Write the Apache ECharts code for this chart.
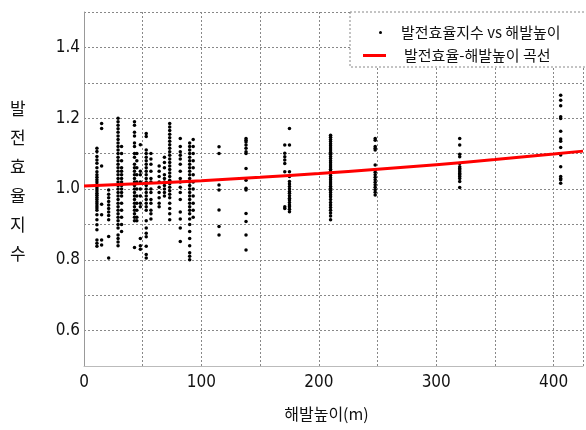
<!DOCTYPE html>
<html>
<head>
<meta charset="utf-8">
<script src="https://cdn.jsdelivr.net/npm/echarts@6/dist/echarts.min.js"></script>
<style>
html,body{margin:0;padding:0;background:#fff;}
#chart{width:586px;height:430px;}
</style>
</head>
<body>
<div id="chart"></div>
<script>
// Altitude columns (m) and the efficiency-index values read at each column
const altitudes = [11, 15, 21, 29, 32, 43, 45, 48, 53, 57, 64, 68.5, 73, 82, 90, 93, 115, 138, 171, 175, 210, 248, 320, 406];
const efficiencyIndex = [
  [1.115, 1.106, 1.092, 1.082, 1.073, 1.06, 1.049, 1.04, 1.033, 1.026, 1.02, 1.013, 1.006, 1.0, 0.994, 0.988, 0.982, 0.976, 0.97, 0.964, 0.958, 0.952, 0.946, 0.94, 0.927, 0.913, 0.899, 0.885, 0.856, 0.847, 0.838],
  [1.185, 1.171, 1.065, 0.957, 0.927, 0.856, 0.842],
  [0.997, 0.985, 0.975, 0.965, 0.955, 0.945, 0.935, 0.925, 0.913, 0.866, 0.805],
  [1.2, 1.19, 1.18, 1.17, 1.16, 1.15, 1.14, 1.13, 1.12, 1.11, 1.1, 1.09, 1.08, 1.07, 1.06, 1.05, 1.04, 1.03, 1.02, 1.01, 1.0, 0.99, 0.98, 0.97, 0.96, 0.95, 0.94, 0.93, 0.92, 0.91, 0.9, 0.89, 0.87, 0.86, 0.85, 0.84],
  [1.12, 1.1, 1.08, 1.06, 1.05, 1.04, 1.03, 1.02, 1.01, 1.0, 0.99, 0.98, 0.96, 0.94, 0.92, 0.9, 0.88],
  [1.19, 1.18, 1.16, 1.15, 1.13, 1.12, 1.1, 1.09, 1.07, 1.06, 1.05, 1.04, 1.03, 1.02, 1.01, 1.0, 0.99, 0.98, 0.97, 0.96, 0.95, 0.94, 0.93, 0.92, 0.91, 0.835],
  [1.1, 1.08, 1.06, 1.04, 1.02, 1.0, 0.98, 0.96, 0.94, 0.92, 0.91],
  [1.125, 1.05, 1.04, 1.02, 1.0, 0.98, 0.96, 0.95, 0.86, 0.84, 0.83],
  [1.157, 1.148, 1.11, 1.1, 1.09, 1.08, 1.07, 1.06, 1.05, 1.04, 1.03, 1.02, 1.01, 1.0, 0.99, 0.98, 0.97, 0.96, 0.95, 0.94, 0.91, 0.89, 0.875, 0.865, 0.838, 0.815, 0.805],
  [1.1, 1.085, 1.07, 1.05, 1.03, 1.02, 1.0, 0.99, 0.97, 0.96, 0.94, 0.93, 0.915],
  [1.065, 1.05, 1.035, 1.02, 1.005, 0.99, 0.975, 0.96, 0.95],
  [1.09, 1.075, 1.06, 1.04, 1.03, 1.02, 1.01, 1.0, 0.99, 0.98],
  [1.185, 1.175, 1.165, 1.155, 1.145, 1.135, 1.125, 1.115, 1.105, 1.095, 1.085, 1.075, 1.065, 1.055, 1.045, 1.035, 1.025, 1.015, 1.005, 0.995, 0.985, 0.975, 0.96, 0.945, 0.93, 0.913],
  [1.143, 1.12, 1.105, 1.095, 1.085, 1.07, 1.05, 1.03, 1.02, 1.005, 0.99, 0.97, 0.935, 0.915, 0.89, 0.852],
  [1.13, 1.12, 1.11, 1.1, 1.09, 1.08, 1.07, 1.06, 1.05, 1.04, 1.03, 1.02, 1.01, 1.0, 0.99, 0.98, 0.97, 0.96, 0.95, 0.94, 0.93, 0.915, 0.9, 0.88, 0.86, 0.84, 0.82, 0.81, 0.8],
  [1.14, 1.12, 1.1, 1.08, 1.06, 1.04, 1.02, 1.0, 0.98, 0.96, 0.94, 0.92],
  [1.119, 1.1, 1.011, 0.997, 0.941, 0.894, 0.87],
  [1.143, 1.138, 1.133, 1.124, 1.115, 1.105, 1.1, 1.058, 1.025, 1.002, 0.997, 0.931, 0.908, 0.87, 0.828],
  [1.124, 1.101, 1.091, 1.082, 1.072, 1.049, 0.95, 0.945],
  [1.171, 1.124, 1.049, 1.035, 1.021, 1.014, 1.007, 1.0, 0.993, 0.988, 0.981, 0.974, 0.969, 0.962, 0.955, 0.95, 0.943, 0.936],
  [1.152, 1.146, 1.14, 1.134, 1.128, 1.122, 1.116, 1.11, 1.104, 1.098, 1.092, 1.086, 1.08, 1.074, 1.068, 1.062, 1.056, 1.05, 1.044, 1.038, 1.032, 1.026, 1.02, 1.014, 1.008, 1.002, 0.996, 0.99, 0.984, 0.978, 0.97, 0.962, 0.955, 0.948, 0.94, 0.932, 0.924, 0.913],
  [1.143, 1.138, 1.12, 1.115, 1.11, 1.068, 1.054, 1.047, 1.04, 1.033, 1.026, 1.019, 1.012, 1.005, 0.998, 0.991, 0.983],
  [1.143, 1.124, 1.098, 1.091, 1.072, 1.063, 1.058, 1.054, 1.049, 1.044, 1.04, 1.035, 1.03, 1.021, 1.004],
  [1.265, 1.251, 1.235, 1.204, 1.199, 1.163, 1.141, 1.135, 1.117, 1.096, 1.063, 1.035, 1.03, 1.026, 1.016]
];
// Fitted curve
const curveAltitudes = [0, 50, 100, 150, 200, 250, 300, 350, 400, 425];
const curveValues = [1.0085, 1.0155, 1.0236, 1.0331, 1.0437, 1.0556, 1.0688, 1.0831, 1.0989, 1.107];

const scatterName = '발전효율지수 vs 해발높이';
const curveName = '발전효율-해발높이 곡선';
const xTitle = '해발높이(m)';
const yTitle = '발전효율지수';

const scatterData = [];
altitudes.forEach((a, i) => efficiencyIndex[i].forEach(v => scatterData.push([a, v])));
const curveData = curveAltitudes.map((a, i) => [a, curveValues[i]]);

const numFont = "'DejaVu Sans Condensed', 'Liberation Sans Narrow', sans-serif";
const krFont = "'Noto Sans CJK KR', sans-serif";

const chart = echarts.init(document.getElementById('chart'), null, {renderer: 'canvas'});
chart.setOption({
  animation: false,
  backgroundColor: '#fff',
  grid: {left: 84, top: 12, right: 0, bottom: 64, containLabel: false},
  xAxis: {
    type: 'value', min: 0, max: 425, interval: 50,
    name: xTitle, nameLocation: 'middle', nameGap: 40,
    nameTextStyle: {fontFamily: krFont, fontSize: 16, color: '#111', padding: [0, 14, 0, 0]},
    axisLine: {show: true, lineStyle: {color: '#bbb', width: 1}},
    axisTick: {show: false},
    axisLabel: {
      margin: 8, fontFamily: numFont, fontSize: 17, color: '#111',
      formatter: v => (v % 100 === 0 ? String(v) : '')
    },
    splitLine: {show: true, lineStyle: {color: '#888', width: 1, type: [2, 2]}}
  },
  yAxis: {
    type: 'value', min: 0.5, max: 1.5, interval: 0.1,
    axisLine: {show: true, lineStyle: {color: '#999', width: 1}},
    axisTick: {show: false},
    axisLabel: {
      margin: 4, fontFamily: numFont, fontSize: 17, color: '#111',
      formatter: v => {
        const k = Math.round(v * 10);
        return (k % 2 === 0 && k >= 6 && k <= 14) ? (k / 10).toFixed(1) : '';
      }
    },
    splitLine: {show: true, lineStyle: {color: '#888', width: 1, type: [2, 2]}}
  },
  graphic: [
    {
      type: 'rect', z: 3, shape: {x: 350, y: 12, width: 240, height: 55},
      style: {fill: '#fff', stroke: '#888', lineWidth: 1, lineDash: [2, 2]}
    },
    {
      type: 'text', left: 10, top: 94, z: 5,
      style: {text: yTitle.split('').join('\n'), font: '17px ' + krFont, lineHeight: 29, fill: '#111', textAlign: 'left'}
    }
  ],
  legend: [
    {
      data: [{name: scatterName, icon: 'circle'}],
      left: 374, top: 20, z: 6,
      itemWidth: 3, itemHeight: 3, itemGap: 0,
      textStyle: {fontFamily: krFont, fontSize: 15, color: '#111', padding: [0, 0, 0, 14]}
    },
    {
      data: [{name: curveName, icon: 'rect', itemStyle: {color: '#f00'}}],
      left: 358, top: 43, z: 6,
      itemWidth: 23, itemHeight: 3, itemGap: 0,
      textStyle: {fontFamily: krFont, fontSize: 15, color: '#111', padding: [0, 0, 0, 13]}
    }
  ],
  series: [
    {
      name: scatterName, type: 'scatter', data: scatterData,
      symbol: 'circle', symbolSize: 3.5, z: 2,
      itemStyle: {color: '#000', opacity: 1}
    },
    {
      name: curveName, type: 'line', data: curveData,
      showSymbol: false, symbol: 'none', smooth: true, z: 3,
      lineStyle: {color: '#f00', width: 3}, itemStyle: {color: '#f00'}
    }
  ]
});
</script>
</body>
</html>
